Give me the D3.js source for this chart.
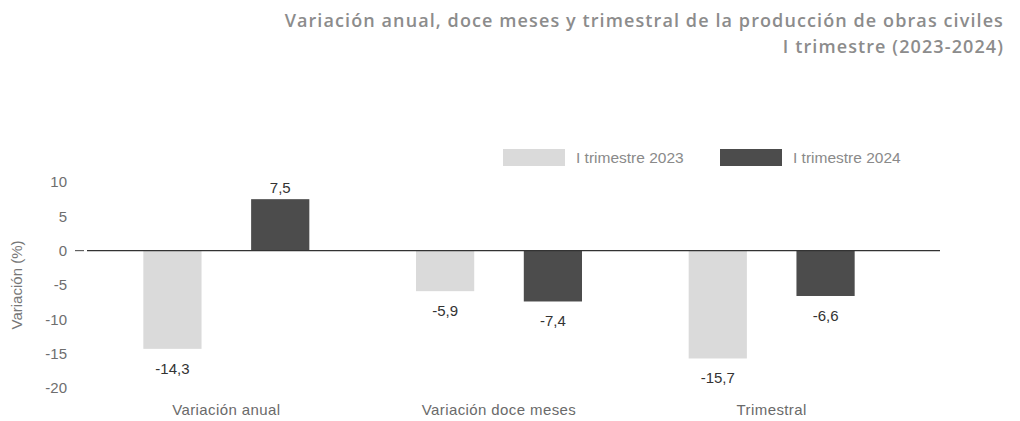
<!DOCTYPE html>
<html>
<head>
<meta charset="utf-8">
<script src="https://cdn.jsdelivr.net/npm/d3@7"></script>
<style>
  body { margin: 0; background: #fff; }
  text { font-family: "Liberation Sans", Arial, sans-serif; }
  text.ttl { font-family: "Open Sans", sans-serif; font-weight: 600; font-size: 18px; letter-spacing: 1.1px; }
</style>
</head>
<body>
<script>
var categories = ["Variación anual", "Variación doce meses", "Trimestral"];
var series = ["I trimestre 2023", "I trimestre 2024"];
var values2023 = [-14.3, -5.9, -15.7];
var values2024 = [7.5, -7.4, -6.6];
var yTicks = [10, 5, 0, -5, -10, -15, -20];

var width = 1020,
    height = 421;

var colors = d3.scaleOrdinal().domain(series).range(["#dadada", "#4c4c4c"]);

// numbers with comma decimals and a plain hyphen
function fmt(v) { return d3.format(".1f")(v).replace(".", ",").replace("\u2212", "-"); }

var svg = d3.select("body").append("svg")
  .attr("width", width)
  .attr("height", height);

// title, right aligned
var title = svg.append("g")
  .attr("fill", "#8c8c8c")
  .attr("text-anchor", "end");
title.append("text").attr("class", "ttl").attr("x", 1004).attr("y", 27)
  .text("Variación anual, doce meses y trimestral de la producción de obras civiles");
title.append("text").attr("class", "ttl").attr("x", 1004).attr("y", 53)
  .text("I trimestre (2023-2024)");

var y = d3.scaleLinear().domain([-20, 10]).range([388, 182]);

var x0 = d3.scaleBand().domain(categories).range([90, 908]);
var x1 = d3.scaleBand().domain(series)
  .range([x0.bandwidth() / 2 - 83, x0.bandwidth() / 2 + 83])
  .paddingInner(0.46);

var data = categories.map(function(c, i) {
  return { cat: c, vals: [
    { s: series[0], v: values2023[i] },
    { s: series[1], v: values2024[i] }
  ]};
});

// y axis
var yAxis = svg.append("g")
  .attr("transform", "translate(67,0)")
  .call(d3.axisLeft(y).tickValues(yTicks).tickSize(0).tickPadding(0)
    .tickFormat(function(d) { return String(d); }));
yAxis.select(".domain").remove();
yAxis.selectAll("text")
  .attr("fill", "#6e6e6e")
  .style("font-size", "15px")
  .style("font-family", "'Liberation Sans', Arial, sans-serif");

svg.append("text")
  .attr("transform", "translate(22," + y(-5) + ") rotate(-90)")
  .attr("text-anchor", "middle")
  .attr("fill", "#777")
  .style("font-size", "15px")
  .text("Variación (%)");

// bars
var groups = svg.selectAll(".grp")
  .data(data)
  .enter().append("g")
  .attr("class", "grp")
  .attr("transform", function(d) { return "translate(" + x0(d.cat) + ",0)"; });

groups.selectAll("rect")
  .data(function(d) { return d.vals; })
  .enter().append("rect")
  .attr("x", function(d) { return x1(d.s); })
  .attr("width", x1.bandwidth())
  .attr("y", function(d) { return y(Math.max(0, d.v)); })
  .attr("height", function(d) { return Math.abs(y(d.v) - y(0)); })
  .attr("fill", function(d) { return colors(d.s); });

groups.selectAll(".val")
  .data(function(d) { return d.vals; })
  .enter().append("text")
  .attr("class", "val")
  .attr("x", function(d) { return x1(d.s) + x1.bandwidth() / 2; })
  .attr("y", function(d) { return d.v >= 0 ? y(d.v) - 6 : y(d.v) + 25; })
  .attr("text-anchor", "middle")
  .attr("fill", "#333")
  .style("font-size", "15px")
  .text(function(d) { return fmt(d.v); });

// zero line
svg.append("line")
  .attr("x1", 75).attr("x2", 84)
  .attr("y1", y(0)).attr("y2", y(0))
  .attr("stroke", "#444");
svg.append("line")
  .attr("x1", 87).attr("x2", 940)
  .attr("y1", y(0)).attr("y2", y(0))
  .attr("stroke", "#333")
  .attr("stroke-width", 1.2);

// category labels
svg.selectAll(".cat")
  .data(categories)
  .enter().append("text")
  .attr("class", "cat")
  .attr("x", function(d) { return x0(d) + x0.bandwidth() / 2; })
  .attr("y", 415)
  .attr("text-anchor", "middle")
  .attr("fill", "#6a6a6a")
  .style("font-size", "15px")
  .style("letter-spacing", "0.4px")
  .text(function(d) { return d; });

// legend
var legX = [503, 720];
var legend = svg.selectAll(".leg")
  .data(series)
  .enter().append("g")
  .attr("class", "leg")
  .attr("transform", function(d, i) { return "translate(" + legX[i] + ",149)"; });
legend.append("rect")
  .attr("width", 62).attr("height", 17)
  .attr("fill", function(d) { return colors(d); });
legend.append("text")
  .attr("x", 73).attr("y", 14)
  .attr("fill", "#8a8a8a")
  .style("font-size", "15.5px")
  .text(function(d) { return d; });
</script>
</body>
</html>
